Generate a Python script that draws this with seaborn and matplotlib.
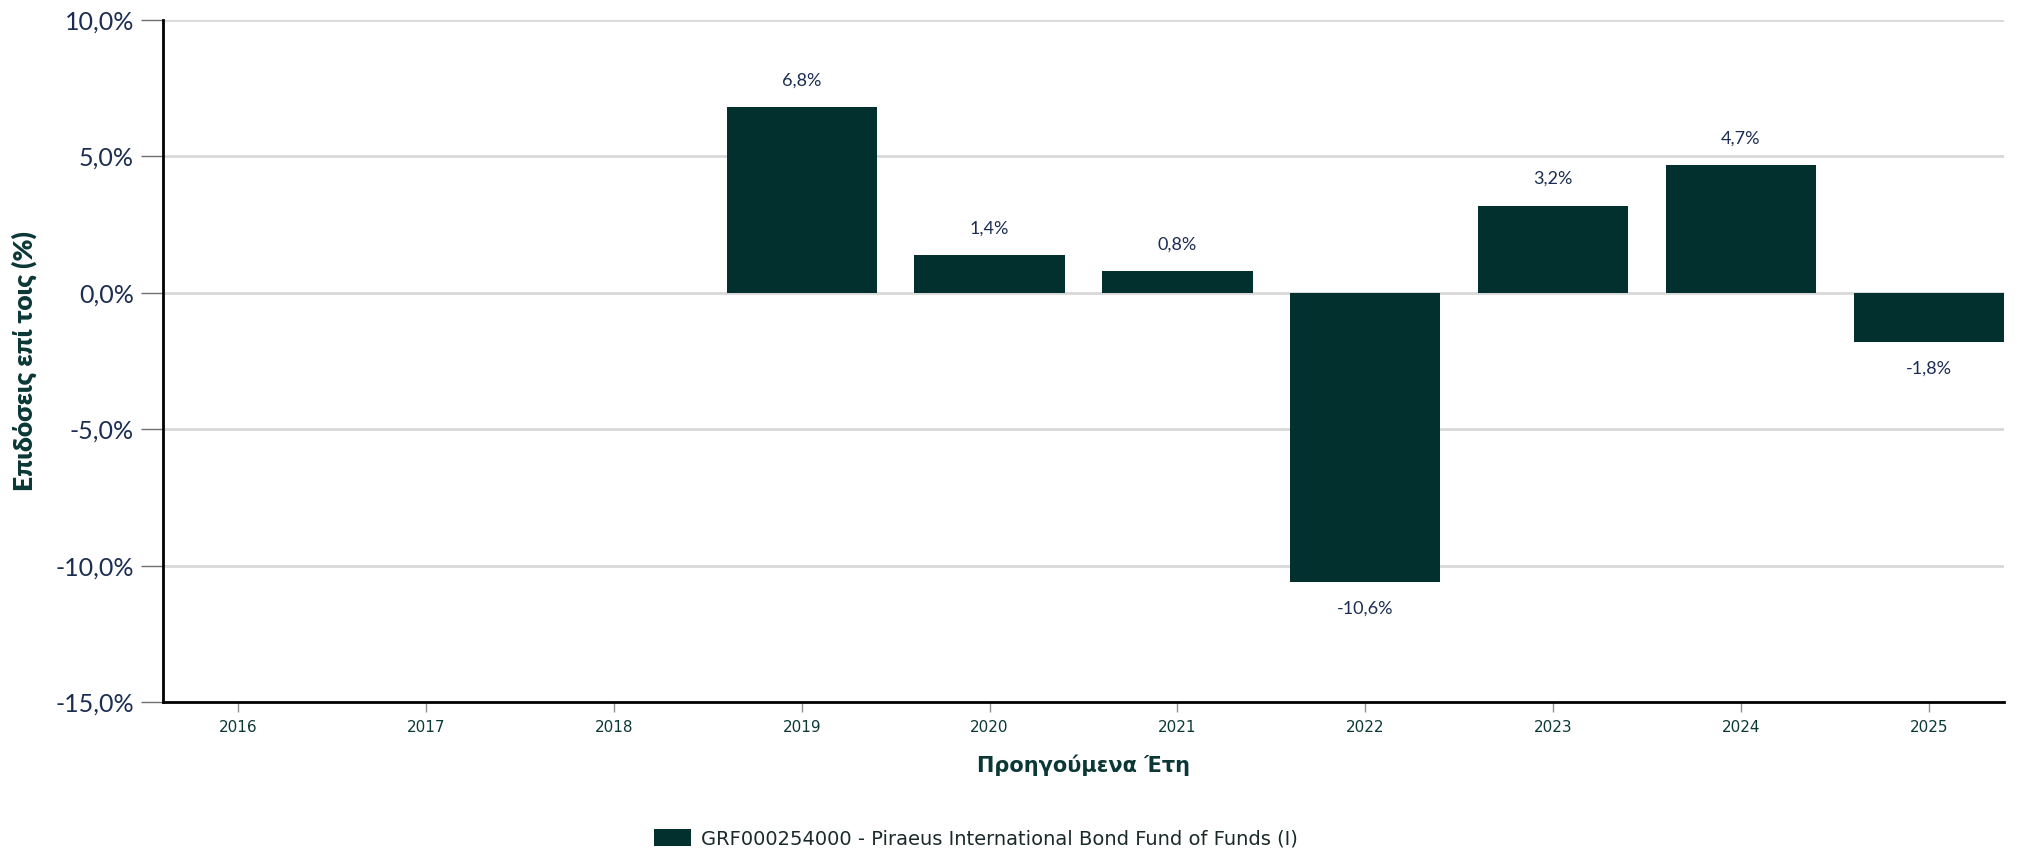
import matplotlib
matplotlib.use("Agg")
import matplotlib.pyplot as plt
import seaborn as sns
import pandas as pd
import numpy as np

years = ["2016", "2017", "2018", "2019", "2020", "2021", "2022", "2023", "2024", "2025"]
data_years = ["2019", "2020", "2021", "2022", "2023", "2024", "2025"]
returns = [6.8, 1.4, 0.8, -10.6, 3.2, 4.7, -1.8]
series_name = "GRF000254000 - Piraeus International Bond Fund of Funds (I)"
y_ticks = [-15, -10, -5, 0, 5, 10]

sns.set_theme(style="white")
plt.rcParams['font.family'] = ['DejaVu Sans']

bar_color = "#02302f"
navy = "#1b2d52"
teal = "#0b3836"

df = pd.DataFrame({"year": data_years, "ret": returns, "series": series_name})

fig = plt.figure(figsize=(20.18, 8.55), dpi=100)
ax = fig.add_axes([163/2018, 1-702/855, (2004-163)/2018, (702-20)/855])

sns.barplot(data=df, x="year", y="ret", order=years, color=bar_color,
            width=0.8, ax=ax, saturation=1, label=series_name, linewidth=0)

ax.set_xlim(-0.4, 9.4)
ax.set_ylim(-15, 10)
ax.set_yticks(y_ticks)
ax.set_yticklabels([f"{v:.1f}%".replace(".", ",") for v in y_ticks],
                   fontsize=18, color=navy, family="Lato")
ax.yaxis.grid(True, color="#d8d8d8", linewidth=2)
ax.set_axisbelow(True)

for lbl in ax.get_xticklabels():
    lbl.set_fontsize(11)
    lbl.set_color(teal)

ax.tick_params(axis="y", which="major", left=True, length=16, width=1, color="#707070", pad=5)
ax.tick_params(axis="x", which="major", bottom=True, length=7, width=1, color="#909090", pad=6)

for s in ["top", "right"]:
    ax.spines[s].set_visible(False)
for s in ["left", "bottom"]:
    ax.spines[s].set_color("black")
    ax.spines[s].set_linewidth(2)

for y, v in zip(data_years, returns):
    xi = years.index(y)
    txt = f"{v:.1f}%".replace(".", ",")
    off = 19 if v >= 0 else -19
    ax.annotate(txt, (xi, v), xytext=(0, off), textcoords="offset points",
                ha="center", va="center", fontsize=13, color=navy, family="Lato")

ax.set_xlabel("Προηγούμενα Έτη", fontsize=15, fontweight="bold", color=teal, labelpad=14)
ax.set_ylabel("Επιδόσεις επί τοις (%)", fontsize=19, fontweight="heavy", color=teal,
              family="Lato", labelpad=13)

h, l = ax.get_legend_handles_labels()
if ax.get_legend() is not None:
    ax.get_legend().remove()
leg = fig.legend(h, l, loc="center", bbox_to_anchor=(0.4836, 0.0187), frameon=False,
                 fontsize=14, handlelength=1.9, handleheight=0.95, handletextpad=0.5)
for t in leg.get_texts():
    t.set_color("#1a2a2a")

fig.savefig("out.png", dpi=100)
